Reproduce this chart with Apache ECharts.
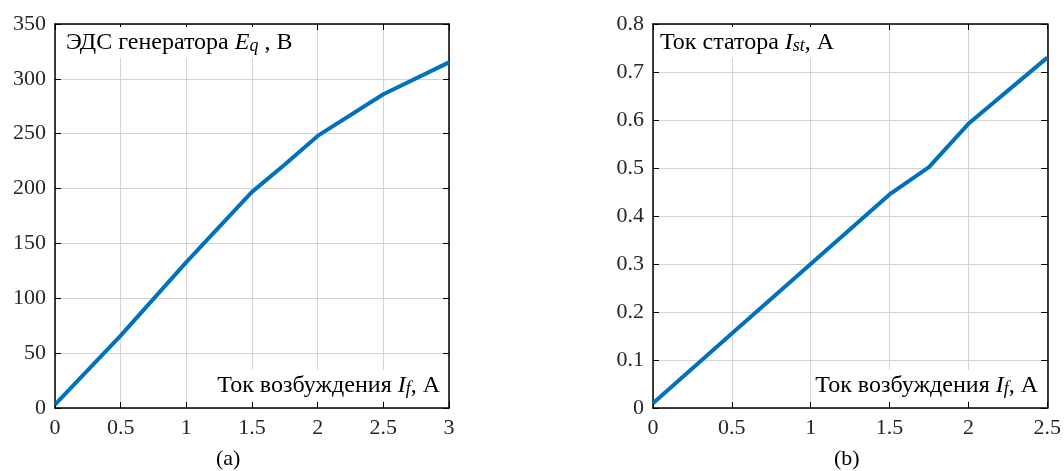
<!DOCTYPE html>
<html>
<head>
<meta charset="utf-8">
<script src="https://cdn.jsdelivr.net/npm/echarts@6/dist/echarts.min.js"></script>
<style>
html, body { margin: 0; padding: 0; background: #fff; }
#main { width: 1064px; height: 471px; }
</style>
</head>
<body>
<div id="main"></div>
<script>
// (a) ЭДС генератора от тока возбуждения
var ifA = [0, 0.5, 1, 1.5, 1.75, 2, 2.5, 3]
var eqA = [3, 66, 133, 197, 222, 248, 286, 315]
// (b) ток статора от тока возбуждения
var ifB = [0, 0.5, 1, 1.5, 1.75, 2, 2.5]
var istB = [0.01, 0.155, 0.3, 0.445, 0.502, 0.592, 0.73]

var serif = '"Liberation Serif", "DejaVu Serif", serif'
var tickColor = '#262626'
var gridColor = '#d4d4d4'

function pairs(xs, ys) {
    return xs.map(function (x, i) { return [x, ys[i]] })
}

function xAxes(gi, max) {
    var base = {
        type: 'value', gridIndex: gi, min: 0, max: max, interval: 0.5,
        axisLine: { onZero: false, lineStyle: { color: '#000', width: 1.5 } },
        axisTick: { inside: true, length: 6, lineStyle: { color: '#000' } },
        splitLine: { show: true, lineStyle: { color: gridColor, width: 1 } }
    }
    return [
        Object.assign({}, base, {
            position: 'bottom',
            axisLabel: { color: tickColor, fontFamily: serif, fontSize: 22, margin: 9 }
        }),
        Object.assign({}, base, {
            position: 'top', axisLabel: { show: false }, splitLine: { show: false }
        })
    ]
}

function yAxes(gi, max, interval) {
    var base = {
        type: 'value', gridIndex: gi, min: 0, max: max, interval: interval,
        axisLine: { show: true, onZero: false, lineStyle: { color: '#000', width: 1.5 } },
        axisTick: { show: true, inside: true, length: 6, lineStyle: { color: '#000' } },
        splitLine: { show: true, lineStyle: { color: gridColor, width: 1 } }
    }
    return [
        Object.assign({}, base, {
            position: 'left',
            axisLabel: { color: tickColor, fontFamily: serif, fontSize: 22, margin: 9 }
        }),
        Object.assign({}, base, {
            position: 'right', axisLabel: { show: false }, splitLine: { show: false }
        })
    ]
}

var rich = {
    n: { fontFamily: serif, fontSize: 24, color: '#000' },
    i: { fontFamily: serif, fontSize: 24, fontStyle: 'italic', color: '#000' },
    s: { fontFamily: serif, fontSize: 18, fontStyle: 'italic', color: '#000', padding: [7, 0, 0, 0] }
}

function label(pos, text) {
    return Object.assign({
        type: 'text', z: 10,
        style: {
            text: text, rich: rich,
            backgroundColor: '#fff', padding: [3, 4, 3, 4]
        }
    }, pos)
}

var myChart = echarts.init(document.getElementById('main'))

var option = {
    animation: false,
    grid: [
        { left: 55, top: 24, width: 394, height: 384 },
        { left: 653, top: 24, width: 395, height: 384 }
    ],
    xAxis: xAxes(0, 3).concat(xAxes(1, 2.5)),
    yAxis: yAxes(0, 350, 50).concat(yAxes(1, 0.8, 0.1)),
    series: [
        {
            type: 'line', xAxisIndex: 0, yAxisIndex: 0, data: pairs(ifA, eqA),
            showSymbol: false, lineStyle: { color: '#0072bd', width: 4 }
        },
        {
            type: 'line', xAxisIndex: 2, yAxisIndex: 2, data: pairs(ifB, istB),
            showSymbol: false, lineStyle: { color: '#0072bd', width: 4 }
        }
    ],
    graphic: [
        label({ left: 62, top: 27 }, '{n|ЭДС генератора }{i|E}{s|q}{n| , В}'),
        label({ right: 620, top: 370 }, '{n|Ток возбуждения }{i|I}{s|f}{n|, А}'),
        label({ left: 656, top: 27 }, '{n|Ток статора }{i|I}{s|st}{n|, А}'),
        label({ right: 22, top: 370 }, '{n|Ток возбуждения }{i|I}{s|f}{n|, А}'),
        { type: 'text', left: 216, top: 448, style: { text: '(a)', font: '22px ' + serif, fill: '#000' } },
        { type: 'text', left: 834, top: 448, style: { text: '(b)', font: '22px ' + serif, fill: '#000' } }
    ]
}

myChart.setOption(option)
</script>
</body>
</html>
